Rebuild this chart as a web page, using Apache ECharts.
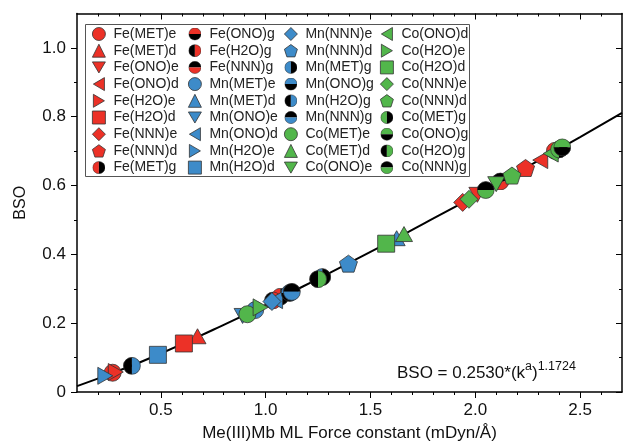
<!DOCTYPE html>
<html>
<head>
<meta charset="utf-8">
<script src="https://cdn.jsdelivr.net/npm/echarts@6/dist/echarts.min.js"></script>
<style>
html,body{margin:0;padding:0;background:#fff;}
#chart{width:623px;height:447px;}
</style>
</head>
<body>
<div id="chart"></div>
<script>
// ---------- data ----------
const metals = ['Fe', 'Mn', 'Co'];
const sites = ['(MET)e', '(MET)d', '(ONO)e', '(ONO)d', '(H2O)e', '(H2O)d',
               '(NNN)e', '(NNN)d', '(MET)g', '(ONO)g', '(H2O)g', '(NNN)g'];

// force constants (mDyn/Å), order follows `sites`
const feK   = [0.270, 0.675, 2.010, 2.310, 0.285, 0.610, 1.940, 2.240, 1.070, 2.380, 1.035, 2.120];
const feBSO = [0.056, 0.162, 0.573, 0.674, 0.058, 0.141, 0.551, 0.651, 0.277, 0.701, 0.266, 0.612];
const mnK   = [0.950, 1.625, 0.890, 1.045, 0.235, 0.486, 1.030, 1.395, 1.270, 1.115, 0.362, 1.125];
const mnBSO = [0.238, 0.447, 0.221, 0.267, 0.047, 0.108, 0.263, 0.373, 0.334, 0.288, 0.076, 0.291];
const coK   = [0.913, 1.660, 2.100, 2.360, 0.976, 1.575, 1.970, 2.175, 2.400, 2.415, 1.250, 2.050];
const coBSO = [0.226, 0.459, 0.604, 0.693, 0.246, 0.431, 0.560, 0.629, 0.705, 0.711, 0.328, 0.587];

// fitted curve
const fitK   = [0.10, 0.30, 0.50, 0.75, 1.00, 1.25, 1.50, 1.75, 2.00, 2.25, 2.50, 2.70];
const fitBSO = [0.017, 0.062, 0.112, 0.181, 0.253, 0.329, 0.407, 0.488, 0.570, 0.655, 0.741, 0.811];

const xTickLabels = [0.5, 1.0, 1.5, 2.0, 2.5];
const xMinorTicks = [0.2, 0.3, 0.4, 0.6, 0.7, 0.8, 0.9, 1.1, 1.2, 1.3, 1.4, 1.6, 1.7, 1.8, 1.9, 2.1, 2.2, 2.3, 2.4, 2.6];
const yTickLabels = [0, 0.2, 0.4, 0.6, 0.8, 1.0];
const yMinorTicks = [0.1, 0.3, 0.5, 0.7, 0.9];

const equationText = ['BSO = 0.2530*(k', 'a', ')', '1.1724'];

// ---------- styling ----------
const colors = { Fe: '#ec3127', Mn: '#3d8bc9', Co: '#52b64b' };
const FONT = "'Liberation Sans', Arial, sans-serif";

function halfSvg(col, type) {
  const L = 'M20,1 A19,19 0 0 0 20,39 Z';
  const R = 'M20,1 A19,19 0 0 1 20,39 Z';
  const T = 'M1,20 A19,19 0 0 1 39,20 Z';
  const B = 'M1,20 A19,19 0 0 0 39,20 Z';
  let p1, p2;
  if (type === 'L') { p1 = [L, col]; p2 = [R, '#000']; }
  else if (type === 'R') { p1 = [L, '#000']; p2 = [R, col]; }
  else if (type === 'T') { p1 = [T, col]; p2 = [B, '#000']; }
  else { p1 = [T, '#000']; p2 = [B, col]; }
  const svg = "<svg xmlns='http://www.w3.org/2000/svg' width='40' height='40' viewBox='0 0 40 40'>" +
    "<path d='" + p1[0] + "' fill='" + p1[1] + "'/>" +
    "<path d='" + p2[0] + "' fill='" + p2[1] + "'/>" +
    "<circle cx='20' cy='20' r='18.8' fill='none' stroke='#333' stroke-width='1.6'/></svg>";
  return 'image://data:image/svg+xml;charset=utf-8,' + encodeURIComponent(svg);
}

const shapeDefs = [
  { symbol: 'circle', size: 17 },
  { symbol: 'triangle', size: [17, 15] },
  { symbol: 'path://M0,0L20,0L10,17Z', size: [17, 15] },
  { symbol: 'path://M17,0L17,20L0,10Z', size: [15, 17] },
  { symbol: 'path://M0,0L0,20L17,10Z', size: [15, 17] },
  { symbol: 'rect', size: 17 },
  { symbol: 'diamond', size: 18 },
  { symbol: 'path://M10,0L19.51,6.91L15.88,18.09L4.12,18.09L0.49,6.91Z', size: [18, 17] },
  { half: 'L', size: 18 },
  { half: 'T', size: 18 },
  { half: 'R', size: 18 },
  { half: 'B', size: 18 }
];

const metalData = { Fe: [feK, feBSO], Mn: [mnK, mnBSO], Co: [coK, coBSO] };

const series = [{
  type: 'line',
  data: fitK.map((k, i) => [k, fitBSO[i]]),
  smooth: true,
  symbol: 'none',
  lineStyle: { color: '#000', width: 2 },
  z: 1,
  silent: true
}];
const legendItems = [];
metals.forEach(m => {
  const [ks, bs] = metalData[m];
  sites.forEach((s, i) => {
    const name = m + s;
    const def = shapeDefs[i];
    const sym = def.half ? halfSvg(colors[m], def.half) : def.symbol;
    const style = { color: colors[m], borderColor: '#333', borderWidth: 0.8, opacity: 1 };
    legendItems.push({ name: name, icon: sym, itemStyle: style });
    series.push({
      type: 'scatter',
      name: name,
      data: [[ks[i], bs[i]]],
      symbol: sym,
      symbolSize: def.size,
      itemStyle: style,
      z: 3
    });
  });
});

const legendLefts = [92, 188, 284, 380];
const legends = legendLefts.map((lft, c) => ({
  orient: 'vertical',
  left: lft,
  top: 27,
  itemWidth: 13,
  itemHeight: 13,
  itemGap: 2.7,
  selectedMode: false,
  padding: 0,
  itemStyle: { borderColor: '#333', borderWidth: 0.8 },
  data: legendItems.slice(c * 9, c * 9 + 9),
  textStyle: { fontFamily: FONT, fontSize: 14, color: '#222', lineHeight: 14, padding: [0, 0, 0, 3] }
}));

const axisCommonX = { type: 'value', min: 0.1, max: 2.7, splitLine: { show: false } };
const axisCommonY = { type: 'value', min: 0, max: 1.1, splitLine: { show: false } };
const blk = { color: '#000', width: 1 };

const option = {
  animation: false,
  backgroundColor: '#fff',
  grid: { left: 77, top: 13.5, width: 545, height: 385, containLabel: false },
  legend: legends,
  xAxis: [
    Object.assign({}, axisCommonX, {
      position: 'bottom',
      name: 'Me(III)Mb ML Force constant (mDyn/Å)',
      nameLocation: 'middle', nameGap: 33,
      nameTextStyle: { fontFamily: FONT, fontSize: 17, color: '#111' },
      axisLine: { show: true, onZero: false, lineStyle: { color: '#000', width: 1.5 } },
      axisTick: { show: true, inside: false, length: 6, lineStyle: blk, customValues: xTickLabels },
      axisLabel: { show: true, margin: 10, fontFamily: FONT, fontSize: 17, color: '#111',
        customValues: xTickLabels, formatter: v => v.toFixed(1) }
    }),
    Object.assign({}, axisCommonX, {
      position: 'bottom',
      axisLine: { show: false, onZero: false },
      axisTick: { show: true, inside: false, length: 3, lineStyle: blk, customValues: xMinorTicks },
      axisLabel: { show: false }
    }),
    Object.assign({}, axisCommonX, {
      position: 'top',
      axisLine: { show: true, onZero: false, lineStyle: { color: '#000', width: 1.5 } },
      axisTick: { show: true, inside: true, length: 6, lineStyle: blk, customValues: xTickLabels },
      axisLabel: { show: false }
    }),
    Object.assign({}, axisCommonX, {
      position: 'top',
      axisLine: { show: false, onZero: false },
      axisTick: { show: true, inside: true, length: 3, lineStyle: blk, customValues: xMinorTicks },
      axisLabel: { show: false }
    })
  ],
  yAxis: [
    Object.assign({}, axisCommonY, {
      position: 'left',
      name: 'BSO',
      nameLocation: 'middle', nameGap: 48, nameRotate: 90,
      nameTextStyle: { fontFamily: FONT, fontSize: 16, color: '#111' },
      axisLine: { show: true, onZero: false, lineStyle: { color: '#000', width: 1.5 } },
      axisTick: { show: true, inside: false, length: 6, lineStyle: blk, customValues: yTickLabels },
      axisLabel: { show: true, margin: 11, fontFamily: FONT, fontSize: 17, color: '#111',
        customValues: yTickLabels, formatter: v => (v === 0 ? '0' : v.toFixed(1)) }
    }),
    Object.assign({}, axisCommonY, {
      position: 'left',
      axisLine: { show: false, onZero: false },
      axisTick: { show: true, inside: false, length: 3, lineStyle: blk, customValues: yMinorTicks },
      axisLabel: { show: false }
    }),
    Object.assign({}, axisCommonY, {
      position: 'right',
      axisLine: { show: true, onZero: false, lineStyle: { color: '#000', width: 1.5 } },
      axisTick: { show: true, inside: true, length: 6, lineStyle: blk, customValues: yTickLabels },
      axisLabel: { show: false }
    }),
    Object.assign({}, axisCommonY, {
      position: 'right',
      axisLine: { show: false, onZero: false },
      axisTick: { show: true, inside: true, length: 3, lineStyle: blk, customValues: yMinorTicks },
      axisLabel: { show: false }
    })
  ],
  graphic: [
    {
      type: 'rect', z: 0,
      shape: { x: 85.5, y: 24.5, width: 384, height: 152 },
      style: { fill: '#fff', stroke: '#555', lineWidth: 1 },
      silent: true
    },
    {
      type: 'text', left: 397, top: 360, z: 10,
      style: {
        text: '{m|' + equationText[0] + '}{s|' + equationText[1] + '}{m|' + equationText[2] + '}{s|' + equationText[3] + '}',
        rich: {
          m: { fontFamily: FONT, fontSize: 17, lineHeight: 22, verticalAlign: 'bottom', fill: '#111' },
          s: { fontFamily: FONT, fontSize: 12.5, lineHeight: 22, verticalAlign: 'top', fill: '#111' }
        }
      }
    }
  ],
  series: series
};

const chart = echarts.init(document.getElementById('chart'), null, { renderer: 'canvas' });
chart.setOption(option);
</script>
</body>
</html>
